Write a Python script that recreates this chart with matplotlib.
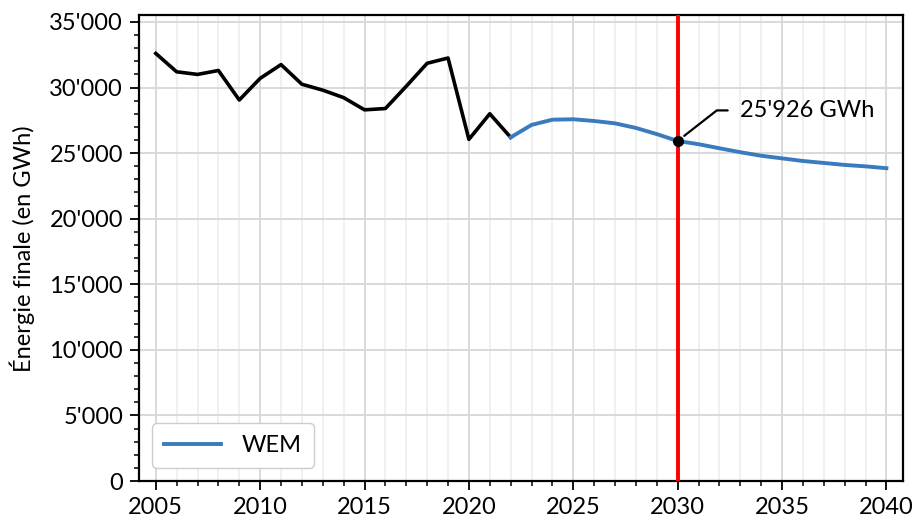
import numpy as np
import matplotlib as mpl
from matplotlib import pyplot as plt
from matplotlib.ticker import FuncFormatter, MultipleLocator

plt.rcParams['font.family'] = ['Lato', 'DejaVu Sans']
plt.rcParams['font.size'] = 17

# historique
years_hist = [2005, 2006, 2007, 2008, 2009, 2010, 2011, 2012, 2013, 2014,
              2015, 2016, 2017, 2018, 2019, 2020, 2021, 2022]
energy_hist = [32600, 31200, 31000, 31300, 29050, 30700, 31750, 30250, 29800, 29230,
               28300, 28400, 30100, 31850, 32250, 26050, 28000, 26200]

# scénario WEM
years_wem = [2022, 2023, 2024, 2025, 2026, 2027, 2028, 2029, 2030, 2031,
             2032, 2033, 2034, 2035, 2036, 2037, 2038, 2039, 2040]
energy_wem = [26200, 27150, 27550, 27580, 27450, 27270, 26920, 26450, 25926, 25680,
              25370, 25070, 24800, 24600, 24400, 24250, 24100, 23990, 23850]

target_year = 2030
target_value = 25926


def fmt_thousands(v, pos):
    return "{:,.0f}".format(v).replace(",", "'")


fig = plt.figure(figsize=(9.15, 5.22), dpi=100)
ax = fig.add_axes([0.152, 0.0785, 0.835, 0.892])

ax.plot(years_hist, energy_hist, color='black', lw=2.6, zorder=3)
ax.plot(years_wem, energy_wem, color='#3a7bbf', lw=2.8, label='WEM', zorder=3)
ax.axvline(target_year, color='#ff0000', lw=2.8, zorder=4)
ax.plot([target_year], [target_value], 'o', color='black', ms=7, zorder=5)

ax.annotate(fmt_thousands(target_value, None) + " GWh",
            xy=(target_year, target_value), xytext=(45, 22),
            textcoords='offset points', va='center', ha='left',
            arrowprops=dict(arrowstyle='-', color='black', lw=1.6,
                            shrinkA=7, shrinkB=6,
                            connectionstyle='angle,angleA=0,angleB=38,rad=0'))

ax.set_xlim(2004.2, 2040.8)
ax.set_ylim(0, 35500)
ax.xaxis.set_major_locator(MultipleLocator(5))
ax.xaxis.set_minor_locator(MultipleLocator(1))
ax.yaxis.set_major_locator(MultipleLocator(5000))
ax.yaxis.set_minor_locator(MultipleLocator(1000))
ax.yaxis.set_major_formatter(FuncFormatter(fmt_thousands))

ax.grid(which='major', color='#d9d9d9', lw=1.4)
ax.grid(which='minor', axis='x', color='#ededed', lw=1.2)
ax.set_axisbelow(True)

ax.tick_params(which='major', length=6.5, width=1.3, direction='out', pad=5)
ax.tick_params(which='minor', length=3.8, width=1.1, direction='out')
for s in ax.spines.values():
    s.set_linewidth(1.6)

ax.set_ylabel("Énergie finale (en GWh)", labelpad=10)

ax.legend(loc='lower left', handlelength=2.4, fancybox=True,
          edgecolor='#cccccc', framealpha=1, borderpad=0.5, handletextpad=0.9,
          borderaxespad=0.55)

fig.savefig('out.png', dpi=100)
